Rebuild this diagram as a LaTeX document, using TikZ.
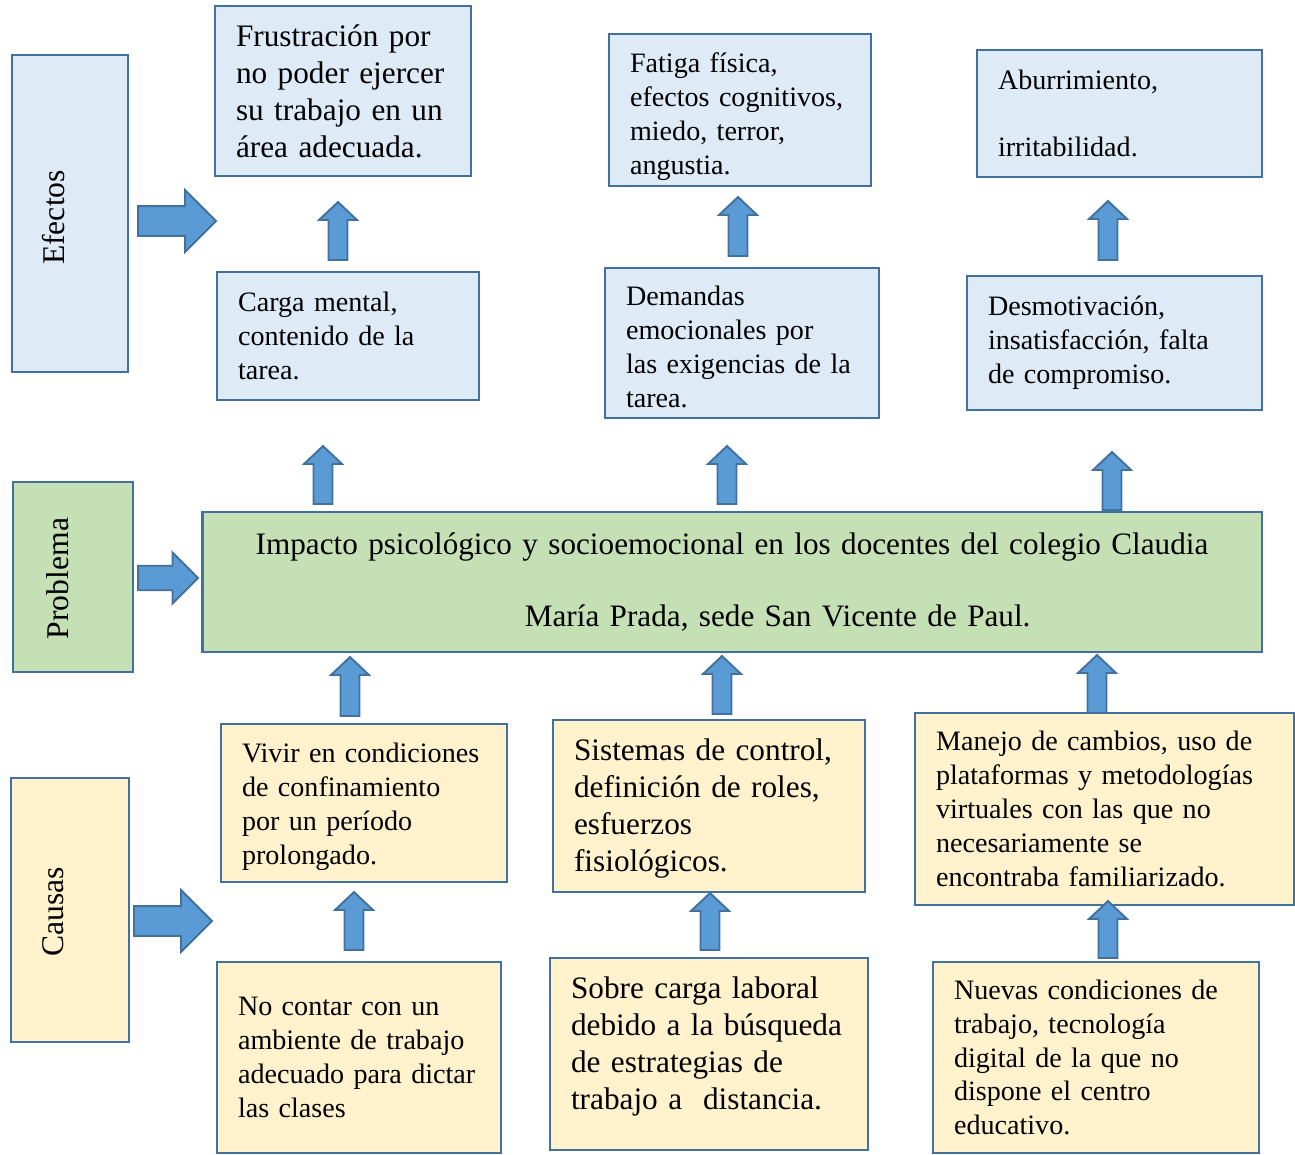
\documentclass[tikz,border=0pt]{standalone}
\usepackage{fontspec}
\setmainfont{Liberation Serif}
\definecolor{efblue}{HTML}{DEEBF7}
\definecolor{pbgreen}{HTML}{C5E0B4}
\definecolor{cayellow}{HTML}{FFF2CC}
\definecolor{arrblue}{HTML}{5B9BD5}
\definecolor{boxline}{HTML}{41719C}
\newcommand{\smalltxt}{\fontsize{16}{19.3}\selectfont}
\newcommand{\bigtxt}{\fontsize{17.8}{21}\selectfont}
\tikzset{box/.style = {draw=boxline, line width=1.6pt, inner xsep=0.42cm, align=left, font=\smalltxt},
         efbox/.style = {box, fill=efblue},
         pbbox/.style = {box, fill=pbgreen},
         cabox/.style = {box, fill=cayellow},
         lbl/.style = {rotate=90, font=\fontsize{18}{21}\selectfont},
         sz/.style n args = {3}{minimum width=#1cm, minimum height=#2cm, text width=#3cm},
         blockarr/.style = {fill=arrblue, draw=boxline, line width=1.1pt}}
% block arrows: x, tip y, bottom y / x start, y, x tip, half head
\newcommand{\upblock}[3]{\filldraw[blockarr] (#1,#2) -- (#1+19,#2+18) -- (#1+9.5,#2+18) -- (#1+9.5,#3) -- (#1-9.5,#3) -- (#1-9.5,#2+18) -- (#1-19,#2+18) -- cycle;}
\newcommand{\rightblock}[4]{\filldraw[blockarr] (#1,#2-0.48*#4) -- (#3-#4,#2-0.48*#4) -- (#3-#4,#2-#4) -- (#3,#2) -- (#3-#4,#2+#4) -- (#3-#4,#2+0.48*#4) -- (#1,#2+0.48*#4) -- cycle;}

\begin{document}
\begin{tikzpicture}[x=0.02cm, y=-0.02cm]
\useasboundingbox (0,0) rectangle (1295,1154);
% side labels
\node[efbox, minimum width=2.32cm, minimum height=6.34cm] (efectos) at (70,213.5) {};
\node[lbl] (efectosl) at (53.5,217.5) {Efectos};
\node[pbbox, minimum width=2.4cm, minimum height=3.8cm] (problema) at (73,577) {};
\node[lbl] (problemal) at (58,578.5) {Problema};
\node[cabox, minimum width=2.36cm, minimum height=5.28cm] (causas) at (70,910) {};
\node[lbl] (causasl) at (53.5,911.5) {Causas};

% effects
\node[efbox, sz={5.12}{3.4}{4.28}, font=\bigtxt] (ef1) at (343,91) {Frustración por\\no poder ejercer\\su trabajo en un\\área adecuada.};
\node[efbox, sz={5.24}{3.04}{4.4}, inner ysep=0pt] (ef2) at (740,110) {\rule{0pt}{19pt}Fatiga física,\\efectos cognitivos,\\miedo, terror,\\angustia.};
\node[efbox, sz={5.7}{2.54}{4.86}] (ef3) at (1119.5,113.5) {Aburrimiento,\\[18.8pt]irritabilidad.};
\node[efbox, sz={5.24}{2.56}{4.4}] (me1) at (348,336) {Carga mental,\\contenido de la\\tarea.};
\node[efbox, sz={5.48}{3.0}{4.64}] (me2) at (742,343) {\rule{0pt}{15.5pt}Demandas\\emocionales por\\las exigencias de la\\tarea.};
\node[efbox, sz={5.9}{2.68}{5.06}] (me3) at (1114.5,343) {Desmotivación,\\insatisfacción, falta\\de compromiso.};

% problem
\node[pbbox, sz={21.2}{2.8}{20.36}, align=center, font=\fontsize{17.75}{21}\selectfont] (imp) at (732,582)
  {Impacto psicológico y socioemocional en los docentes del colegio Claudia\\[20pt]\hspace*{52pt}María Prada, sede San Vicente de Paul.};

% causes
\node[cabox, sz={5.72}{3.16}{4.88}] (ca1) at (364,803) {\rule{0pt}{15.5pt}Vivir en condiciones\\de confinamiento\\por un período\\prolongado.};
\node[cabox, sz={6.24}{3.44}{5.4}, font=\bigtxt] (ca2) at (709,806) {\rule{0pt}{15pt}Sistemas de control,\\definición de roles,\\esfuerzos\\fisiológicos.};
\node[cabox, sz={7.58}{3.84}{6.74}] (ca3) at (1104.5,809) {Manejo de cambios, uso de\\plataformas y metodologías\\virtuales con las que no\\necesariamente se\\encontraba familiarizado.};
\node[cabox, sz={5.68}{3.82}{4.84}] (cb1) at (359,1057.5) {No contar con un\\ambiente de trabajo\\adecuado para dictar\\las clases};
\node[cabox, sz={6.36}{3.84}{5.52}, font=\bigtxt] (cb2) at (709,1054) {Sobre carga laboral\\debido a la búsqueda\\de estrategias de\\trabajo a~ distancia.\rule[-12pt]{0pt}{0pt}};
\node[cabox, sz={6.52}{3.82}{5.68}] (cb3) at (1096,1057.5) {Nuevas condiciones de\\trabajo, tecnología\\digital de la que no\\dispone el centro\\educativo.};

% arrows
\rightblock{138}{221}{216}{31}
\rightblock{138}{578}{198}{25.5}
\rightblock{134}{921}{212}{31}
\upblock{338}{202}{260}
\upblock{738}{197}{256}
\upblock{1108}{201}{260}
\upblock{323}{446}{504}
\upblock{727}{446}{504}
\upblock{1112}{452}{510}
\upblock{350}{657}{716}
\upblock{722}{656}{714}
\upblock{1097}{655}{713}
\upblock{354}{892}{950}
\upblock{710}{893}{950}
\upblock{1108}{901}{958}
\end{tikzpicture}
\end{document}
